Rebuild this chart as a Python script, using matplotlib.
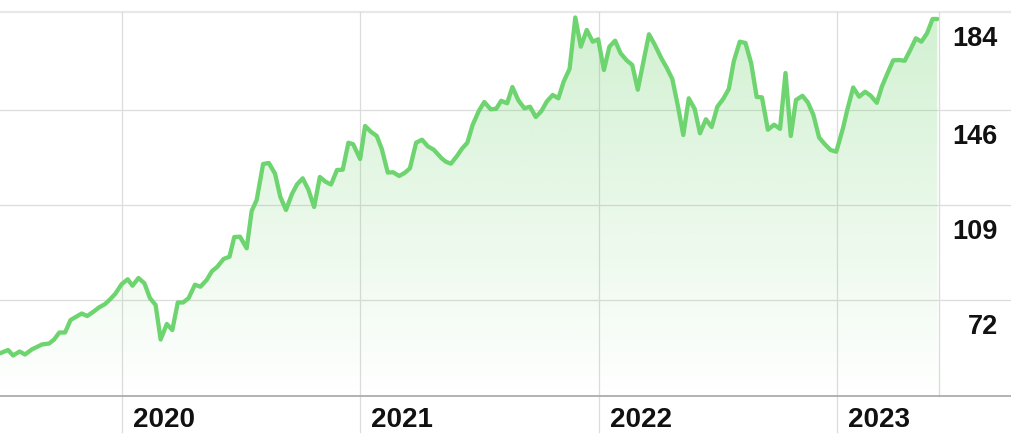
import matplotlib
matplotlib.use("Agg")
import matplotlib.pyplot as plt
import numpy as np
from matplotlib.colors import to_rgb

# decimal-year positions and closing price
years_frac = [
    2019.488, 2019.522, 2019.543, 2019.570, 2019.593, 2019.621, 2019.664, 2019.694, 2019.715, 2019.737,
    2019.761, 2019.784, 2019.831, 2019.854, 2019.880, 2019.903, 2019.929, 2019.950, 2019.971, 2019.999,
    2020.024, 2020.044, 2020.069, 2020.094, 2020.117, 2020.141, 2020.162, 2020.188, 2020.211, 2020.234,
    2020.256, 2020.279, 2020.306, 2020.329, 2020.355, 2020.378, 2020.399, 2020.426, 2020.451, 2020.471,
    2020.495, 2020.523, 2020.544, 2020.565, 2020.592, 2020.616, 2020.642, 2020.664, 2020.688, 2020.713,
    2020.734, 2020.758, 2020.782, 2020.806, 2020.830, 2020.854, 2020.877, 2020.902, 2020.926, 2020.950,
    2020.970, 2020.999,
    2021.020, 2021.044, 2021.069, 2021.090, 2021.115, 2021.138, 2021.163, 2021.187, 2021.208, 2021.234,
    2021.259, 2021.283, 2021.308, 2021.341, 2021.359, 2021.380, 2021.406, 2021.427, 2021.449, 2021.471,
    2021.497, 2021.520, 2021.547, 2021.570, 2021.591, 2021.616, 2021.638, 2021.663, 2021.688, 2021.712,
    2021.736, 2021.759, 2021.783, 2021.807, 2021.831, 2021.853, 2021.878, 2021.902, 2021.925, 2021.950,
    2021.975, 2021.998,
    2022.022, 2022.045, 2022.069, 2022.092, 2022.118, 2022.141, 2022.164, 2022.211, 2022.236, 2022.263,
    2022.285, 2022.309, 2022.333, 2022.355, 2022.378, 2022.403, 2022.425, 2022.450, 2022.474, 2022.498,
    2022.523, 2022.546, 2022.567, 2022.592, 2022.616, 2022.640, 2022.663, 2022.685, 2022.710, 2022.736,
    2022.761, 2022.784, 2022.806, 2022.828, 2022.855, 2022.878, 2022.901, 2022.925, 2022.948, 2022.973,
    2022.997,
    2023.025, 2023.043, 2023.068, 2023.093, 2023.118, 2023.142, 2023.167, 2023.189, 2023.213, 2023.236,
    2023.261, 2023.284, 2023.308, 2023.331, 2023.354, 2023.378, 2023.401, 2023.421,
]
price = [
    51.27, 52.56, 50.42, 51.97, 50.81, 52.75, 54.70, 55.08, 56.64, 59.36,
    59.36, 64.22, 66.75, 65.78, 67.45, 69.08, 70.44, 72.27, 74.33, 78.22,
    80.05, 77.56, 80.56, 78.50, 72.78, 70.06, 56.64, 62.67, 60.33, 71.03,
    71.03, 72.66, 77.95, 77.17, 79.78, 83.28, 84.83, 87.95, 88.84, 96.50,
    96.62, 92.11, 106.61, 110.89, 124.89, 125.28, 121.12, 112.17, 107.00, 113.22,
    116.92, 119.33, 114.90, 108.17, 119.83, 118.00, 116.92, 122.56, 122.67, 133.17,
    132.55, 126.83,
    139.67, 137.45, 135.78, 130.72, 121.58, 121.66, 120.22, 121.51, 123.22, 133.17,
    134.34, 131.77, 130.45, 127.11, 125.78, 125.01, 128.08, 130.92, 133.17, 140.06,
    145.50, 149.00, 146.16, 146.36, 149.47, 148.50, 154.83, 149.66, 146.55, 147.17,
    143.17, 145.38, 149.27, 151.72, 150.44, 156.89, 161.91, 181.86, 170.51, 177.00,
    172.45, 173.38,
    161.45, 170.51, 172.84, 167.94, 165.14, 163.39, 153.78, 175.33, 171.17, 166.00,
    162.42, 157.95, 147.17, 136.17, 150.44, 146.28, 136.83, 142.27, 139.28, 147.17,
    150.28, 154.06, 164.83, 172.45, 171.95, 164.05, 150.95, 150.83, 138.23, 140.17,
    138.58, 160.28, 135.78, 149.78, 151.41, 148.81, 143.95, 135.20, 132.67, 130.33,
    129.67,
    138.78, 145.89, 154.64, 151.06, 153.00, 151.41, 148.69, 155.15, 160.40, 165.22,
    165.33, 165.02, 169.34, 173.78, 172.45, 175.72, 181.28, 181.28,
]
year_ticks = [2020, 2021, 2022, 2023]
year_labels = ["2020", "2021", "2022", "2023"]
price_ticks = [72, 109, 146, 184]
price_labels = ["72", "109", "146", "184"]

LINE = "#6dd46f"
GRID = "#dcdcdc"
AXIS = "#a6a6a6"

plt.rcParams["font.family"] = ["Liberation Sans", "DejaVu Sans"]

fig = plt.figure(figsize=(10.12, 4.44), dpi=100)
ax = fig.add_axes([0, 48 / 444, 939 / 1012, 384 / 444])
ax.set_xticks([])
ax.set_yticks([])
for side in ("left", "bottom", "top"):
    ax.spines[side].set_visible(False)
ax.spines["right"].set_color(GRID)
ax.spines["right"].set_linewidth(1.0)

# horizontal grid runs under the price labels too
ext = 1012 / 939
for v in price_ticks[:-1]:
    ax.axhline(v, xmin=0, xmax=ext, color=GRID, lw=0.9, clip_on=False, zorder=0)
ax.axhline(184, xmin=0, xmax=ext, color="#e8e8e8", lw=1.6, clip_on=False, zorder=0)
ax.axhline(34.67, xmin=0, xmax=ext, color=AXIS, lw=1.2, clip_on=False, zorder=3)

# year gridlines drop below the axis through the label band
for yr in year_ticks:
    ax.axvline(yr, ymin=-36 / 384, ymax=1, color=GRID, lw=0.9, clip_on=False, zorder=0)

# gradient fill under the line
x = np.array(years_frac)
y = np.array(price)
poly = ax.fill_between(x, y, 34.67, color="none", lw=0)
r, g, b = to_rgb("#6bd06b")
grad = np.zeros((256, 1, 4))
grad[:, 0, 0], grad[:, 0, 1], grad[:, 0, 2] = r, g, b
grad[:, 0, 3] = np.linspace(0.31, 0.0, 256)
img = ax.imshow(grad, extent=[x[0], x[-1], 34.67, 184], aspect="auto",
                origin="upper", zorder=1, interpolation="bilinear")
img.set_clip_path(poly.get_paths()[0], transform=ax.transData)
ax.set_xlim(2019.488, 2023.428)
ax.set_ylim(34.67, 184)

ax.plot(x, y, color=LINE, lw=3.1, solid_joinstyle="round", solid_capstyle="round", zorder=4)

for v, lab in zip(price_ticks, price_labels):
    ax.annotate(lab, xy=(1, v), xycoords=ax.get_yaxis_transform(),
                xytext=(59 * 0.72, -27 * 0.72), textcoords="offset points",
                ha="right", va="center", fontsize=19.5, fontweight="bold", color="#111111")

for yr, lab in zip(year_ticks, year_labels):
    ax.annotate(lab, xy=(yr, 0), xycoords=ax.get_xaxis_transform(),
                xytext=(11 * 0.72, -24 * 0.72), textcoords="offset points",
                ha="left", va="center", fontsize=20, fontweight="bold", color="#111111")

fig.savefig("out.png", dpi=100)
